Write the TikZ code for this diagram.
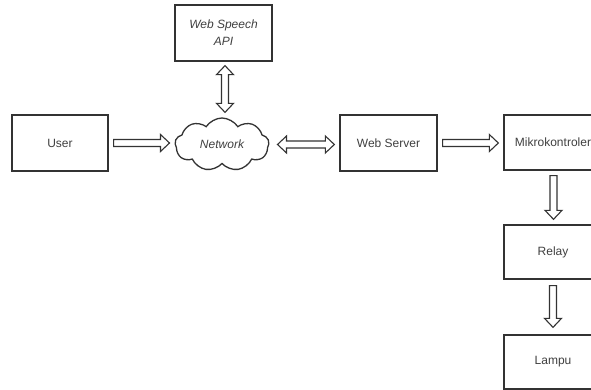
\documentclass[tikz,border=0pt]{standalone}
\usepackage{fontspec}
\setmainfont{Liberation Sans}
\usetikzlibrary{shapes.symbols,calc}
\definecolor{ln}{HTML}{333333}
\definecolor{tx}{HTML}{404040}
\tikzset{
  box/.style={draw=ln, line width=1.3pt, minimum width=97pt, minimum height=56pt, inner sep=0pt, text=tx, font=\fontsize{12}{17}\selectfont, align=center},
  arr/.style={draw=ln, line width=1.1pt, fill=white, line join=miter},
}
\newcommand\arrR[2]{\draw[arr] let \p1=#1, \p2=#2 in
  (\x1,\y1+3.5pt) -- (\x2-9pt,\y1+3.5pt) -- (\x2-9pt,\y1+8.5pt) -- (\x2,\y1) -- (\x2-9pt,\y1-8.5pt) -- (\x2-9pt,\y1-3.5pt) -- (\x1,\y1-3.5pt) -- cycle;}
\newcommand\arrLR[2]{\draw[arr] let \p1=#1, \p2=#2 in
  (\x1,\y1) -- (\x1+9pt,\y1+8.5pt) -- (\x1+9pt,\y1+3.5pt) -- (\x2-9pt,\y1+3.5pt) -- (\x2-9pt,\y1+8.5pt) -- (\x2,\y1) -- (\x2-9pt,\y1-8.5pt) -- (\x2-9pt,\y1-3.5pt) -- (\x1+9pt,\y1-3.5pt) -- (\x1+9pt,\y1-8.5pt) -- cycle;}
\newcommand\arrD[2]{\draw[arr] let \p1=#1, \p2=#2 in
  (\x1-3.5pt,\y1) -- (\x1-3.5pt,\y2+9pt) -- (\x1-8.5pt,\y2+9pt) -- (\x1,\y2) -- (\x1+8.5pt,\y2+9pt) -- (\x1+3.5pt,\y2+9pt) -- (\x1+3.5pt,\y1) -- cycle;}
\newcommand\arrUD[2]{\draw[arr] let \p1=#1, \p2=#2 in
  (\x1,\y1) -- (\x1+8.5pt,\y1-9pt) -- (\x1+3.5pt,\y1-9pt) -- (\x1+3.5pt,\y2+9pt) -- (\x1+8.5pt,\y2+9pt) -- (\x1,\y2) -- (\x1-8.5pt,\y2+9pt) -- (\x1-3.5pt,\y2+9pt) -- (\x1-3.5pt,\y1-9pt) -- (\x1-8.5pt,\y1-9pt) -- cycle;}
\begin{document}
\begin{tikzpicture}[x=1pt,y=-1pt]
\clip (0,0) rectangle (591,390);
\fill[white] (0,0) rectangle (591,390);
\node[box, minimum width=96pt] (user) at (60,143) {User};
\node[box, font=\fontsize{12}{17}\selectfont\itshape] (api) at (223.5,33) {Web Speech\\API};
\node[cloud, cloud puffs=9, cloud puff arc=115, aspect=1.9, draw=ln, line width=1.3pt, minimum width=94pt, minimum height=53pt, inner sep=0pt, text=tx, font=\fontsize{12}{17}\selectfont\itshape] (net) at (222,144.5) {Network};
\node[box] (ws) at (388.5,143) {Web Server};
\node[box, minimum width=98pt, minimum height=55pt] (mk) at (553,142.5) {Mikrokontroler};
\node[box, minimum width=98pt, minimum height=54pt] (relay) at (553,252) {Relay};
\node[box, minimum width=98pt, minimum height=54pt] (lampu) at (553,362) {Lampu};
\arrR{($(user.east)+(5,0)$)}{($(net.west)+(-5,0)$)}
\arrUD{($(api.south)+(1.5,4)$)}{($(net.north)+(0,-5)$)}
\arrLR{($(net.east)+(8,0)$)}{($(ws.west)+(-5,0)$)}
\arrR{($(ws.east)+(5,0)$)}{($(mk.west)+(-5,0)$)}
\arrD{($(mk.south)+(0.5,5)$)}{($(relay.north)+(0,-5)$)}
\arrD{($(relay.south)+(0,6)$)}{($(lampu.north)+(0,-7)$)}
\end{tikzpicture}
\end{document}
